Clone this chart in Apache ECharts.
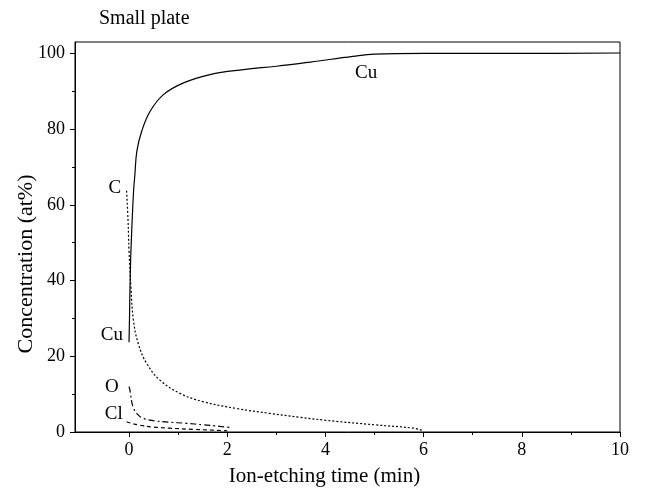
<!DOCTYPE html>
<html>
<head>
<meta charset="utf-8">
<script src="https://cdn.jsdelivr.net/npm/echarts@6/dist/echarts.min.js"></script>
<style>
  html, body { margin: 0; padding: 0; background: #fff; }
  #main { width: 649px; height: 494px; }
</style>
</head>
<body>
<div id="main"></div>
<script>
// data
var xTicks = [0, 2, 4, 6, 8, 10];
var xMinor = [1, 3, 5, 7, 9];
var yTicks = [0, 20, 40, 60, 80, 100];
var yMinor = [10, 30, 50, 70, 90];

var cuTime = [0, 0.01, 0.02, 0.04, 0.09, 0.12, 0.16, 0.26, 0.43, 0.70, 1.11, 1.65, 2.33, 3.0, 3.69, 4.56, 5.0, 6, 8, 10];
var cuConc = [23.7, 30, 38, 48, 63, 68, 74.2, 79.5, 84.7, 89.1, 92.2, 94.4, 95.7, 96.6, 97.7, 99.2, 99.8, 100, 100, 100.1];

var cTime = [-0.05, -0.02, 0, 0.04, 0.09, 0.19, 0.36, 0.63, 1.04, 1.51, 2.19, 2.87, 3.48, 4.0, 5.0, 5.8, 6.0];
var cConc = [63.7, 56, 48, 38, 29.5, 23.3, 18.1, 13.7, 10.2, 8.0, 6.2, 4.9, 3.9, 3.1, 1.9, 1.0, 0.3];

var oTime = [0.0, 0.02, 0.08, 0.18, 0.29, 0.49, 0.8, 1.17, 1.5, 1.85, 2.05];
var oConc = [12, 11, 6.7, 4.6, 3.6, 3.0, 2.6, 2.3, 1.9, 1.5, 1.2];

var clTime = [-0.05, 0.05, 0.22, 0.5, 0.84, 1.3, 1.7, 2.0];
var clConc = [2.7, 2.3, 1.8, 1.3, 1.0, 0.7, 0.5, 0.3];

function pairs(xs, ys) {
    return xs.map(function (x, i) { return [x, ys[i]]; });
}

var font = 'Liberation Serif';

function tag(text, x, y) {
    return {
        coord: [x, y], symbolSize: 0,
        label: { show: true, formatter: text, position: 'inside', color: '#000', fontFamily: font, fontSize: 19 }
    };
}

function line(name, xs, ys, dash, marks) {
    return {
        name: name, type: 'line', data: pairs(xs, ys),
        showSymbol: false, smooth: 0.4,
        lineStyle: { color: '#000', width: 1.2, type: dash },
        markPoint: { symbol: 'circle', data: marks, silent: true },
        z: 3
    };
}

var myChart = echarts.init(document.getElementById('main'));
var option = {
    backgroundColor: '#fff',
    animation: false,
    title: {
        text: 'Small plate', left: 94, top: 4,
        textStyle: { fontFamily: font, fontSize: 20, fontWeight: 'normal', color: '#000' }
    },
    grid: {
        left: 75, right: 29, top: 42, bottom: 62, outerBoundsMode: 'none',
        show: true, borderColor: '#000', borderWidth: 1
    },
    xAxis: [{
        type: 'value', min: -1.1, max: 10,
        name: 'Ion-etching time (min)', nameLocation: 'middle', nameGap: 34,
        nameTextStyle: { fontFamily: font, fontSize: 21, color: '#000', padding: [0, 46, 0, 0] },
        axisLine: { onZero: false, lineStyle: { color: '#000', width: 1 } },
        axisTick: { customValues: xTicks, length: 5, lineStyle: { color: '#000' } },
        axisLabel: { customValues: xTicks, fontFamily: font, fontSize: 18, color: '#000', margin: 9 },
        splitLine: { show: false }
    }, {
        type: 'value', min: -1.1, max: 10, position: 'bottom',
        axisLine: { show: false, onZero: false },
        axisTick: { customValues: xMinor, length: 3, lineStyle: { color: '#000' } },
        axisLabel: { show: false },
        splitLine: { show: false }
    }],
    yAxis: [{
        type: 'value', min: 0, max: 103,
        name: 'Concentration (at%)', nameLocation: 'middle', nameGap: 38, nameMoveOverlap: false,
        nameTextStyle: { fontFamily: font, fontSize: 22, color: '#000', padding: [0, 54, 0, 0] },
        axisLine: { show: true, onZero: false, lineStyle: { color: '#000', width: 1 } },
        axisTick: { show: true, customValues: yTicks, length: 5, lineStyle: { color: '#000' } },
        axisLabel: { customValues: yTicks, fontFamily: font, fontSize: 18, color: '#000', margin: 10 },
        splitLine: { show: false }
    }, {
        type: 'value', min: 0, max: 103, position: 'left',
        axisLine: { show: false, onZero: false },
        axisTick: { show: true, customValues: yMinor, length: 3, lineStyle: { color: '#000' } },
        axisLabel: { show: false },
        splitLine: { show: false }
    }],
    series: [
        line('Cu', cuTime, cuConc, 'solid', [tag('Cu', 4.83, 94.7), tag('Cu', -0.35, 25.5)]),
        line('C', cTime, cConc, [2, 2], [tag('C', -0.29, 64.5)]),
        line('O', oTime, oConc, [6, 3, 2, 3], [tag('O', -0.35, 11.8)]),
        line('Cl', clTime, clConc, [4, 3], [tag('Cl', -0.31, 4.7)])
    ]
};
myChart.setOption(option);
</script>
</body>
</html>
